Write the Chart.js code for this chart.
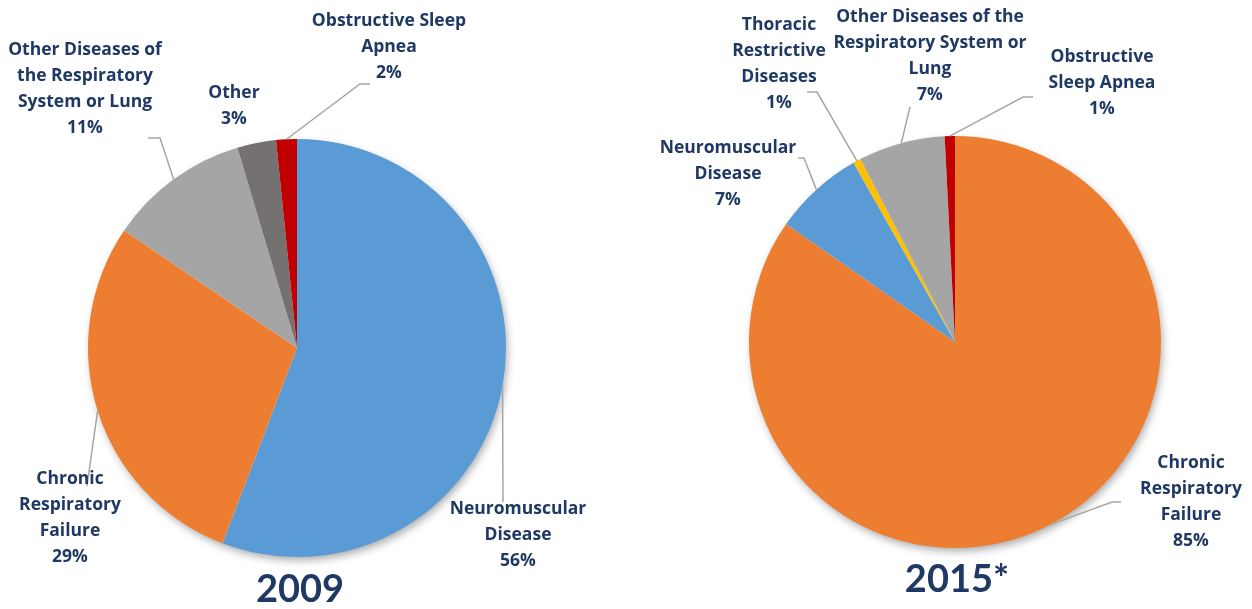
<!DOCTYPE html>
<html>
<head>
<meta charset="utf-8">
<script src="https://cdn.jsdelivr.net/npm/chart.js@4.4.0/dist/chart.umd.min.js"></script>
<style>
  html, body { margin: 0; padding: 0; background: #fff; }
  #wrap { position: relative; width: 1252px; height: 609px; }
  .box { position: absolute; top: 0; width: 626px; height: 609px; }
</style>
</head>
<body>
<div id="wrap">
  <div class="box" style="left:0"><canvas id="pie2009"></canvas></div>
  <div class="box" style="left:626px"><canvas id="pie2015"></canvas></div>
</div>
<script>
// 2009 data (clockwise from 12 o'clock)
const labels2009 = [
  ["Neuromuscular", "Disease"],
  ["Chronic", "Respiratory", "Failure"],
  ["Other Diseases of", "the Respiratory", "System or Lung"],
  ["Other"],
  ["Obstructive Sleep", "Apnea"]
];
const values2009 = [55.8, 28.7, 10.9, 3.0, 1.6];
const pct2009 = ["56%", "29%", "11%", "3%", "2%"];
const colors2009 = ["#5B9BD5", "#ED7D31", "#A5A5A5", "#767171", "#C00000"];

// 2015 data
const labels2015 = [
  ["Chronic", "Respiratory", "Failure"],
  ["Neuromuscular", "Disease"],
  ["Thoracic", "Restrictive", "Diseases"],
  ["Other Diseases of the", "Respiratory System or", "Lung"],
  ["Obstructive", "Sleep Apnea"]
];
const values2015 = [84.7, 7.1, 0.6, 6.8, 0.8];
const pct2015 = ["85%", "7%", "1%", "7%", "1%"];
const colors2015 = ["#ED7D31", "#5B9BD5", "#FFC000", "#A5A5A5", "#C00000"];

const TEXT = "#1F3864";
const FONT = "'Open Sans', 'DejaVu Sans', sans-serif";

// label placement relative to the pie centre: text centre + leader bend points
const layout2009 = [
  { at: [221, 161], leader: [[206, 154]] },
  { at: [-227, 131], leader: [[-210, 138]] },
  { at: [-212, -298], leader: [[-137, -210], [-149, -210]] },
  { at: [-63, -255], leader: null },
  { at: [92, -327], leader: [[63, -264], [73, -264]] }
];
const layout2015 = [
  { at: [236, 121], leader: [[157, 160], [166, 160]] },
  { at: [-227, -194], leader: [[-151, -184], [-157, -184]] },
  { at: [-176, -317], leader: [[-138, -250], [-148, -250]] },
  { at: [-25, -325], leader: [[-45, -235]] },
  { at: [147, -285], leader: [[68, -245], [78, -245]] }
];

const pieDecor = {
  id: "pieDecor",
  beforeDatasetsDraw(chart) {
    // soft shadow under the whole pie
    const arc = chart.getDatasetMeta(0).data[0];
    const ctx = chart.ctx;
    ctx.save();
    ctx.shadowColor = "rgba(0,0,0,0.35)";
    ctx.shadowBlur = 9;
    ctx.shadowOffsetX = 2;
    ctx.shadowOffsetY = 4;
    ctx.fillStyle = "#fff";
    ctx.beginPath();
    ctx.arc(arc.x, arc.y, arc.outerRadius - 1, 0, Math.PI * 2);
    ctx.fill();
    ctx.restore();
  },
  afterDatasetsDraw(chart, args, opts) {
    const ctx = chart.ctx;
    const meta = chart.getDatasetMeta(0);
    const labels = chart.data.labels;
    meta.data.forEach((arc, i) => {
      const cfg = opts.layout[i];
      const cx = arc.x, cy = arc.y;
      const mid = (arc.startAngle + arc.endAngle) / 2;
      if (cfg.leader) {
        ctx.save();
        ctx.strokeStyle = "#A6A6A6";
        ctx.lineWidth = 1.5;
        ctx.beginPath();
        ctx.moveTo(cx + Math.cos(mid) * arc.outerRadius, cy + Math.sin(mid) * arc.outerRadius);
        cfg.leader.forEach(p => ctx.lineTo(cx + p[0], cy + p[1]));
        ctx.stroke();
        ctx.restore();
      }
      const lines = labels[i].concat([opts.pct[i]]);
      ctx.save();
      ctx.fillStyle = TEXT;
      ctx.font = "bold 17.5px " + FONT;
      ctx.textAlign = "center";
      ctx.textBaseline = "middle";
      lines.forEach((t, k) => ctx.fillText(t, cx + cfg.at[0], cy + cfg.at[1] + k * 26));
      ctx.restore();
    });
    const arc0 = meta.data[0];
    ctx.save();
    ctx.fillStyle = TEXT;
    ctx.font = "bold 38px Lato, sans-serif";
    ctx.textAlign = "center";
    ctx.textBaseline = "middle";
    ctx.fillText(opts.year, arc0.x + opts.yearAt[0], arc0.y + opts.yearAt[1]);
    ctx.restore();
  }
};

function makePie(id, labels, values, colors, pct, layout, year, yearAt, padding) {
  return new Chart(document.getElementById(id), {
    type: "pie",
    data: {
      labels: labels,
      datasets: [{ data: values, backgroundColor: colors, borderWidth: 0 }]
    },
    options: {
      responsive: true,
      maintainAspectRatio: false,
      animation: false,
      layout: { padding: padding },
      plugins: {
        legend: { display: false },
        tooltip: { enabled: false },
        pieDecor: { layout: layout, pct: pct, year: year, yearAt: yearAt }
      }
    },
    plugins: [pieDecor]
  });
}

makePie("pie2009", labels2009, values2009, colors2009, pct2009, layout2009, "2009", [3, 242],
  { left: 88, right: 120, top: 139, bottom: 52 });
makePie("pie2015", labels2015, values2015, colors2015, pct2015, layout2015, "2015*", [2, 238],
  { left: 123, right: 91, top: 136, bottom: 61 });
</script>
</body>
</html>
